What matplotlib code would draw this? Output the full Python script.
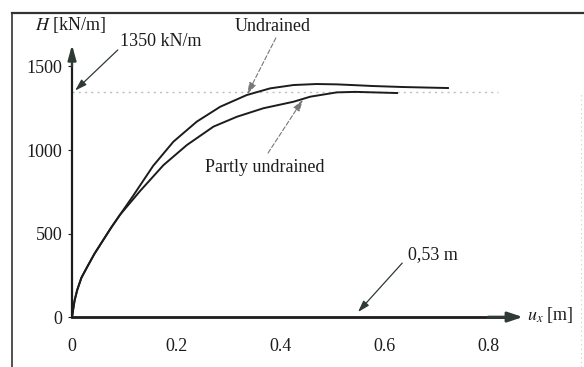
import matplotlib
matplotlib.use("Agg")
import matplotlib.pyplot as plt
from matplotlib.lines import Line2D

plt.rcParams['font.family'] = ['Liberation Serif', 'DejaVu Serif']
plt.rcParams['mathtext.fontset'] = 'stix'

# curves: u_x [m], H [kN/m]
u_undrained = [0, 0.002, 0.005, 0.01, 0.018, 0.029, 0.043, 0.06, 0.075, 0.092,
               0.118, 0.156, 0.195, 0.24, 0.285, 0.336, 0.381, 0.426, 0.47,
               0.509, 0.545, 0.579, 0.637, 0.723]
H_undrained = [0, 42, 100, 162, 235, 299, 378, 461, 534, 611,
               728, 905, 1050, 1170, 1259, 1329, 1369, 1389, 1395,
               1393, 1388, 1383, 1377, 1371]

u_partly = [0, 0.002, 0.005, 0.01, 0.018, 0.029, 0.043, 0.06, 0.075, 0.092,
            0.131, 0.176, 0.221, 0.272, 0.317, 0.368, 0.426, 0.458, 0.509,
            0.545, 0.58, 0.625]
H_partly = [0, 42, 100, 162, 235, 299, 378, 461, 534, 611,
            755, 910, 1030, 1140, 1199, 1250, 1289, 1319, 1345,
            1348, 1345, 1341]

x_ticks = [0, 0.2, 0.4, 0.6, 0.8]
x_tick_labels = ['0', '0.2', '0.4', '0.6', '0.8']
y_ticks = [0, 500, 1000, 1500]
y_tick_labels = ['0', '500', '1000', '1500']

H_limit = 1350
u_limit = 0.53

ink = '#1c1c1c'
head = '#2e3a34'
fs = 13

fig = plt.figure(figsize=(5.84, 3.67), dpi=100)
ax = fig.add_axes([0, 0, 1, 1])
ax.set_xlim(-0.1385, 0.9846)
ax.set_ylim(-299, 1898)
ax.patch.set_alpha(0)

for s in ['top', 'right']:
    ax.spines[s].set_visible(False)
ax.spines['left'].set_position(('data', 0))
ax.spines['bottom'].set_position(('data', 0))
ax.spines['left'].set_bounds(0, 1600)
ax.spines['bottom'].set_bounds(0, 0.85)
ax.spines['left'].set_linewidth(1.6)
ax.spines['bottom'].set_linewidth(2.0)
ax.spines['left'].set_color(ink)
ax.spines['bottom'].set_color(ink)

ax.set_xticks(x_ticks)
ax.set_xticklabels(x_tick_labels, fontsize=fs, color=ink)
ax.set_yticks(y_ticks)
ax.set_yticklabels(y_tick_labels, fontsize=fs, color=ink)
ax.tick_params(axis='x', length=0, pad=15)
ax.tick_params(axis='y', length=3, width=0.8, pad=4, color=ink)

# arrowheads on axes
ax.annotate('', xy=(0.867, 0), xytext=(0.80, 0),
            arrowprops=dict(arrowstyle='-|>,head_length=0.9,head_width=0.3',
                            lw=2.0, color=head, shrinkA=0, shrinkB=0))
ax.annotate('', xy=(0, 1629), xytext=(0, 1500),
            arrowprops=dict(arrowstyle='-|>,head_length=0.9,head_width=0.25',
                            lw=1.6, color=head, shrinkA=0, shrinkB=0))

# limit load line
ax.plot([0, 0.82], [H_limit, H_limit], color='#bdbdbd', lw=1.0,
        linestyle=(0, (1.5, 3)))

ax.plot(u_undrained, H_undrained, color=ink, lw=1.4)
ax.plot(u_partly, H_partly, color=ink, lw=1.4)

# labels
ax.text(-0.071, 1749, r'$H$ [kN/m]', fontsize=fs, color=ink, va='center')
ax.text(0.875, 12, r'$u_x$ [m]', fontsize=fs, color=ink, va='center')

ax.text(0.092, 1647, '1350 kN/m', fontsize=fs, color=ink, va='center')
ax.annotate('', xy=(0.006, H_limit + 6), xytext=(0.088, 1599),
            arrowprops=dict(arrowstyle='-|>,head_length=0.7,head_width=0.22',
                            lw=0.9, color=head, shrinkA=0, shrinkB=0))

ax.text(0.313, 1737, 'Undrained', fontsize=fs, color=ink, va='center')
ax.annotate('', xy=(0.337, 1334), xytext=(0.392, 1671),
            arrowprops=dict(arrowstyle='-|>,head_length=0.7,head_width=0.22',
                            lw=0.8, color='#777777', linestyle=(0, (4, 2)),
                            shrinkA=0, shrinkB=0))

ax.text(0.256, 898, 'Partly undrained', fontsize=fs, color=ink, va='center')
ax.annotate('', xy=(0.444, 1302), xytext=(0.377, 982),
            arrowprops=dict(arrowstyle='-|>,head_length=0.7,head_width=0.22',
                            lw=0.8, color='#777777', linestyle=(0, (4, 2)),
                            shrinkA=0, shrinkB=0))

ax.text(0.646, 371, '0,53 m', fontsize=fs, color=ink, va='center')
ax.annotate('', xy=(0.55, 30), xytext=(0.635, 323),
            arrowprops=dict(arrowstyle='-|>,head_length=0.7,head_width=0.22',
                            lw=0.9, color=head, shrinkA=0, shrinkB=0))

# scanned frame around the figure
fig.add_artist(Line2D([12 / 584, 1.0], [1 - 13 / 367, 1 - 13 / 367],
                      color='#333333', lw=1.6))
fig.add_artist(Line2D([12 / 584, 12 / 584], [0, 1 - 13 / 367],
                      color='#333333', lw=1.2))
fig.add_artist(Line2D([581 / 584, 581 / 584], [0, 0.75],
                      color='#cccccc', lw=0.8, linestyle=(0, (1, 3))))

fig.savefig('out.png', dpi=100)
